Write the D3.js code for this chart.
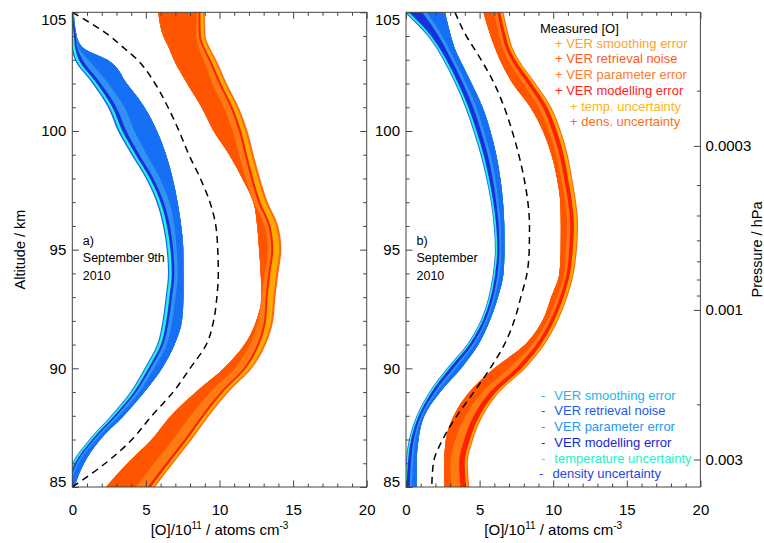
<!DOCTYPE html>
<html><head><meta charset="utf-8">
<script src="https://cdn.jsdelivr.net/npm/d3@7"></script>
<style>
body{margin:0;background:#fff}
svg{display:block}
text{font-family:"Liberation Sans",Arial,Helvetica,sans-serif}
</style>
</head><body>
<svg id="c" width="764" height="543"></svg>
<script>
// ---------------- DATA ----------------
const altitudes = [105,104,103.5,103,102,101,100,99,98,97,96,95,94,93,92,91,90,89,88,87,86,85];
const xTicks = [0,5,10,15,20];
const xMinorTicks = [1,2,3,4,6,7,8,9,11,12,13,14,16,17,18,19];
const altTicks = [85,90,95,100,105];
const altMinorTicks = [86,87,88,89,91,92,93,94,96,97,98,99,101,102,103,104];
const pressureTicks = [0.0003,0.001,0.003];
const pressureTickLabels = ["0.0003","0.001","0.003"];
const pressureMinorTicks = [0.0002,0.0004,0.0005,0.0006,0.0007,0.0008,0.0009,0.002];
const pressureAtTop = 1.125e-4;     // hPa at 105 km
const pressureAtBottom = 3.67e-3;   // hPa at 85 km

// Panel a) September 9th 2010
const aModel      = [0.0,2.55,3.5,4.42,5.62,6.5,7.25,7.92,8.7,9.35,9.75,9.88,9.92,9.82,9.6,9.1,8.0,6.85,5.4,4.05,2.25,0.0];
const aBlueInner  = [0.1,0.3,0.75,2.38,3.7,4.9,5.75,6.37,6.82,7.15,7.4,7.54,7.55,7.55,7.45,6.95,6.1,4.9,3.5,1.9,0.8,0.15];
const aBlueOuter  = [-0.3,-0.1,-0.05,0.17,1.37,2.42,3.1,4.02,5.0,5.72,6.16,6.41,6.5,6.34,6.13,5.76,4.91,3.94,2.62,1.15,-0.02,-0.5];
const aBlueDens   = [.08,.08,.09,.1,.12,.12,.12,.11,.1,.1,.09,.08,.08,.08,.08,.08,.08,.08,.07,.06,.06,.06];
const aBlueTemp   = [.12,.14,.16,.18,.18,.18,.18,.18,.18,.18,.18,.18,.18,.18,.18,.18,.18,.17,.16,.15,.14,.14];
const aBlueModel  = [.1,.12,.15,.25,.27,.27,.27,.25,.23,.21,.2,.18,.17,.17,.16,.16,.15,.15,.14,.12,.11,.1];
const aBlueParam  = [.05,.06,.1,.4,.5,.55,.55,.5,.45,.38,.3,.25,.24,.24,.24,.24,.24,.22,.2,.15,.12,.1];
const aOrangeInner= [5.84,6.18,6.57,6.9,7.8,8.78,9.6,10.66,11.55,12.3,12.56,12.69,12.8,12.85,12.5,11.7,10.3,8.4,6.7,5.4,3.75,2.3];
const aOrangeOuter= [9.0,9.05,9.35,9.77,10.49,11.3,11.9,12.32,12.76,13.28,13.99,14.2,14.0,13.8,13.65,13.14,12.2,10.62,9.3,8.12,6.86,5.62];
const aOrangeDens = [.1,.1,.11,.12,.13,.14,.15,.15,.15,.15,.15,.15,.15,.15,.14,.14,.13,.13,.12,.12,.12,.12];
const aOrangeTemp = [.2,.22,.23,.25,.25,.27,.28,.3,.32,.35,.38,.4,.4,.38,.35,.3,.28,.25,.22,.2,.18,.16];
const aOrangeModel= [.12,.12,.13,.14,.15,.15,.15,.15,.15,.15,.14,.13,.13,.13,.13,.14,.15,.16,.17,.18,.2,.22];
const aOrangeParam= [.1,.2,.28,.35,.45,.45,.42,.4,.35,.3,.26,.24,.25,.3,.4,.5,.6,.7,.75,.78,.8,.8];

// Panel b) September 2010
const bModel      = [3.33,4.1,4.6,5.1,5.99,6.67,7.21,7.66,8.02,8.28,8.39,8.37,8.22,7.8,7.35,6.68,5.72,4.61,3.46,2.49,1.86,1.75];
const bBlueInner  = [2.65,3.05,3.3,3.66,4.46,5.2,5.73,6.13,6.41,6.59,6.68,6.69,6.62,6.25,5.69,4.92,3.75,2.32,1.25,0.85,0.73,0.73];
const bBlueOuter  = [-0.1,1.47,2.05,2.52,3.33,4.02,4.57,5.06,5.45,5.76,5.96,6.04,5.9,5.6,5.06,4.14,2.78,1.58,0.72,0.2,-0.02,-0.1];
const bBlueDens   = [.1,.08,.07,.07,.07,.07,.07,.07,.06,.05,.05,.05,.05,.05,.05,.05,.06,.05,.05,.05,.05,.05];
const bBlueTemp   = [.2,.16,.15,.15,.15,.15,.15,.14,.13,.12,.12,.11,.11,.11,.11,.12,.13,.12,.1,.1,.1,.1];
const bBlueModel  = [.9,.5,.4,.35,.32,.32,.3,.28,.25,.2,.17,.15,.16,.16,.16,.2,.25,.2,.15,.18,.2,.2];
const bBlueParam  = [.3,.25,.22,.2,.22,.22,.2,.2,.18,.15,.14,.12,.14,.12,.12,.15,.18,.15,.1,.12,.15,.15];
const bOrangeInner= [5.26,5.75,6.05,6.38,7.25,8.45,9.3,9.88,10.26,10.48,10.52,10.51,10.42,9.87,9.27,8.1,6.0,4.31,3.25,2.71,2.6,2.6];
const bOrangeOuter= [6.62,7.0,7.25,7.66,8.81,9.87,10.52,10.99,11.29,11.56,11.69,11.61,11.4,10.96,10.32,9.42,8.11,6.35,5.23,4.56,4.2,4.3];
const bOrangeDens = [.08,.08,.08,.08,.08,.08,.08,.08,.08,.08,.08,.08,.08,.08,.08,.08,.08,.08,.08,.08,.08,.08];
const bOrangeTemp = [.14,.14,.15,.16,.18,.2,.2,.2,.2,.2,.2,.2,.18,.18,.18,.18,.18,.16,.15,.14,.13,.13];
const bOrangeModel= [.2,.22,.24,.26,.3,.3,.3,.28,.27,.26,.25,.24,.22,.24,.26,.3,.38,.4,.4,.38,.38,.38];
const bOrangeParam= [.22,.22,.22,.24,.3,.28,.25,.23,.2,.2,.22,.22,.18,.2,.2,.28,.45,.5,.55,.6,.6,.62];

const upperLegend = [
  {text:"Measured [O]", color:"#000000", indent:0},
  {text:"+ VER smoothing error", color:"#FFA21E", indent:1},
  {text:"+ VER retrieval noise", color:"#FF5A1E", indent:1},
  {text:"+ VER parameter error", color:"#FF7B28", indent:1},
  {text:"+ VER modelling error", color:"#FF1E14", indent:1},
  {text:"+ temp. uncertainty", color:"#FFB414", indent:2},
  {text:"+ dens. uncertainty", color:"#FF6E14", indent:2}
];
const lowerLegend = [
  {text:"VER smoothing error", color:"#1EB4F0"},
  {text:"VER retrieval noise", color:"#1E5AE6"},
  {text:"VER parameter error", color:"#2896F0"},
  {text:"VER modelling error", color:"#1428D2"},
  {text:"temperature uncertainty", color:"#1EF0C8"},
  {text:"density uncertainty", color:"#1E46E6"}
];
// fill colours, outermost layer first: dens, temp, model, param, main
const blueFill   = ["#1E64F0","#25F2D5","#1530E0","#3092F2","#1670F5"];
const orangeFill = ["#FF6A10","#FFAA00","#FF2000","#FF7A10","#FF5500"];

// ---------------- LAYOUT ----------------
const svg = d3.select("#c");
const plotTop = 12.3, plotBottom = 487, pw = 294.4;
const frameColor = "#444";
const y = d3.scaleLinear().domain([85,105]).range([plotBottom, plotTop]);
const pY = d3.scaleLog().domain([pressureAtTop, pressureAtBottom]).range([plotTop, plotBottom]);

const panels = [
  {left:72.3, label:["a)","September 9th","2010"], model:aModel,
   blue:{inner:aBlueInner, outer:aBlueOuter, strips:[aBlueDens,aBlueTemp,aBlueModel,aBlueParam]},
   orange:{inner:aOrangeInner, outer:aOrangeOuter, strips:[aOrangeDens,aOrangeTemp,aOrangeModel,aOrangeParam]},
   pressure:false},
  {left:406, label:["b)","September","2010"], model:bModel,
   blue:{inner:bBlueInner, outer:bBlueOuter, strips:[bBlueDens,bBlueTemp,bBlueModel,bBlueParam]},
   orange:{inner:bOrangeInner, outer:bOrangeOuter, strips:[bOrangeDens,bOrangeTemp,bOrangeModel,bOrangeParam]},
   pressure:true}
];

panels.forEach((p,pi)=>{
  const x = d3.scaleLinear().domain([0,20]).range([p.left, p.left+pw]);
  const g = svg.append("g");
  const clipId = "clip"+pi;
  svg.append("clipPath").attr("id",clipId).append("rect")
    .attr("x",p.left).attr("y",plotTop).attr("width",pw).attr("height",plotBottom-plotTop);
  const marks = g.append("g").attr("clip-path",`url(#${clipId})`);
  const area = d3.area().curve(d3.curveMonotoneY)
    .y(d=>y(d.alt)).x0(d=>x(d.lo)).x1(d=>x(d.hi));

  // blue (lower bound) band: cumulative boundaries from outer edge inward
  let acc = p.blue.outer.slice();
  for (let k=0;k<5;k++){
    const lo = acc.slice();
    const rows = altitudes.map((a,i)=>({alt:a, lo:lo[i], hi:p.blue.inner[i]}));
    marks.append("path").attr("d",area(rows)).attr("fill",blueFill[k]);
    if (k<4) acc = acc.map((v,i)=>v + p.blue.strips[k][i]);
  }
  // orange (upper bound) band: cumulative boundaries from outer edge inward
  acc = p.orange.outer.slice();
  for (let k=0;k<5;k++){
    const hi = acc.slice();
    const rows = altitudes.map((a,i)=>({alt:a, lo:p.orange.inner[i], hi:hi[i]}));
    marks.append("path").attr("d",area(rows)).attr("fill",orangeFill[k]);
    if (k<4) acc = acc.map((v,i)=>v - p.orange.strips[k][i]);
  }
  // dashed model profile
  const line = d3.line().curve(d3.curveMonotoneY).x(d=>x(d.v)).y(d=>y(d.alt));
  marks.append("path").attr("d",line(altitudes.map((a,i)=>({alt:a,v:p.model[i]}))))
    .attr("fill","none").attr("stroke","#000").attr("stroke-width",1.5).attr("stroke-dasharray","7,5");

  // axes
  const styleAxis = sel => {
    sel.select(".domain").remove();
    sel.selectAll("line").attr("stroke",frameColor);
    sel.selectAll("text").attr("fill","#000").style("font-family","'Liberation Sans',Arial,sans-serif");
  };
  g.append("g").attr("transform",`translate(0,${plotBottom})`)
    .call(d3.axisBottom(x).tickValues(xTicks).tickSize(-6.5).tickPadding(17).tickSizeOuter(0))
    .call(styleAxis).selectAll("text").style("font-size","15px");
  g.append("g").attr("transform",`translate(0,${plotBottom})`)
    .call(d3.axisBottom(x).tickValues(xMinorTicks).tickSize(-3.5).tickFormat("").tickSizeOuter(0)).call(styleAxis);
  g.append("g").attr("transform",`translate(0,${plotTop})`)
    .call(d3.axisTop(x).tickValues(xTicks).tickSize(-6.5).tickFormat("").tickSizeOuter(0)).call(styleAxis);
  g.append("g").attr("transform",`translate(0,${plotTop})`)
    .call(d3.axisTop(x).tickValues(xMinorTicks).tickSize(-3.5).tickFormat("").tickSizeOuter(0)).call(styleAxis);

  const yl = g.append("g").attr("transform",`translate(${p.left},0)`)
    .call(d3.axisLeft(y).tickValues(altTicks).tickSize(-6.5).tickPadding(6).tickSizeOuter(0))
    .call(styleAxis);
  yl.selectAll("text").style("font-size","15px")
    .attr("y", d => d===105 ? 7.5 : (d===85 ? -5 : 0));
  g.append("g").attr("transform",`translate(${p.left},0)`)
    .call(d3.axisLeft(y).tickValues(altMinorTicks).tickSize(-3.5).tickFormat("").tickSizeOuter(0)).call(styleAxis);

  const right = p.left+pw;
  if (!p.pressure){
    g.append("g").attr("transform",`translate(${right},0)`)
      .call(d3.axisRight(y).tickValues(altTicks).tickSize(-6.5).tickFormat("").tickSizeOuter(0)).call(styleAxis);
    g.append("g").attr("transform",`translate(${right},0)`)
      .call(d3.axisRight(y).tickValues(altMinorTicks).tickSize(-3.5).tickFormat("").tickSizeOuter(0)).call(styleAxis);
  } else {
    g.append("g").attr("transform",`translate(${right},0)`)
      .call(d3.axisRight(pY).tickValues(pressureTicks).tickSize(-6.5).tickPadding(5)
        .tickFormat((d,i)=>pressureTickLabels[i]).tickSizeOuter(0))
      .call(styleAxis).selectAll("text").style("font-size","15px");
    g.append("g").attr("transform",`translate(${right},0)`)
      .call(d3.axisRight(pY).tickValues(pressureMinorTicks).tickSize(-3.5).tickFormat("").tickSizeOuter(0)).call(styleAxis);
  }
  // frame
  g.append("rect").attr("x",p.left).attr("y",plotTop).attr("width",pw).attr("height",plotBottom-plotTop)
    .attr("fill","none").attr("stroke",frameColor).attr("stroke-width",1);

  // x title
  const xt = g.append("text").attr("x",p.left+pw/2).attr("y",535).attr("text-anchor","middle")
    .style("font-size","15px").attr("fill","#000");
  xt.append("tspan").text("[O]/10");
  xt.append("tspan").text("11").attr("dy",-6).style("font-size","10px");
  xt.append("tspan").text(" / atoms cm").attr("dy",6);
  xt.append("tspan").text("-3").attr("dy",-6).style("font-size","10px");

  // panel label
  p.label.forEach((t,i)=>{
    g.append("text").attr("x",p.left+10.5).attr("y",[244.5,261.5,279.5][i])
      .style("font-size","12.5px").attr("fill","#000").text(t);
  });
});

// axis titles
svg.append("text").attr("transform","translate(24.5,249.5) rotate(-90)").attr("text-anchor","middle")
  .style("font-size","14.5px").attr("fill","#000").text("Altitude / km");
svg.append("text").attr("transform","translate(762,249.5) rotate(-90)").attr("text-anchor","middle")
  .style("font-size","14.5px").attr("fill","#000").text("Pressure / hPa");

// legends
const upX = [540,555,570];
const upY = [33,48,63.4,78.7,94.6,110.6,126.4];
upperLegend.forEach((d,i)=>{
  svg.append("text").attr("x",upX[d.indent]).attr("y",upY[i]).style("font-size","13px")
    .attr("fill",d.color).text(d.text);
});
const loY = [400,415.4,431.4,447,463,478];
lowerLegend.forEach((d,i)=>{
  const last = i===lowerLegend.length-1;
  svg.append("text").attr("x",last?539:541).attr("y",loY[i]).style("font-size","13px")
    .attr("fill",d.color).text("-");
  svg.append("text").attr("x",last?552.5:554.3).attr("y",loY[i]).style("font-size","13px")
    .attr("fill",d.color).text(d.text);
});
</script>
</body></html>
